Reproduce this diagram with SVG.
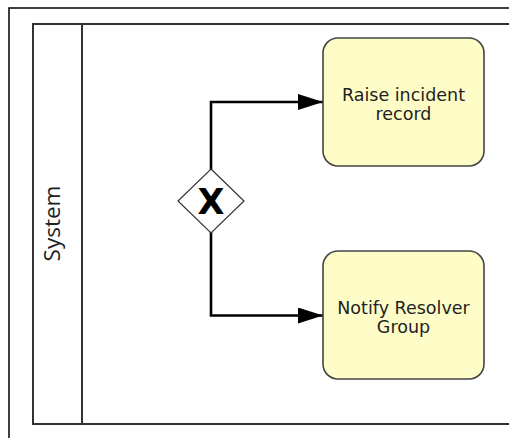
<svg xmlns="http://www.w3.org/2000/svg" width="509" height="438" viewBox="0 0 509 438">
  <style>
    .frame { fill: none; stroke: #000; stroke-width: 1.5; }
    .pool { fill: none; stroke: #333; stroke-width: 2; }
    .task { fill: #fefdc8; stroke: #444; stroke-width: 1.6; }
    .label { font-family: "DejaVu Sans", sans-serif; font-size: 17.5px; fill: #222; text-anchor: middle; }
    .flow { fill: none; stroke: #000; stroke-width: 2.6; }
    .gw { fill: #fff; stroke: #333; stroke-width: 1.2; }
  </style>
  <defs>
    <marker id="arrow" markerUnits="userSpaceOnUse" markerWidth="26" markerHeight="18" refX="25" refY="8" orient="auto">
      <path d="M0,0 L25,8 L0,16 z" fill="#000"/>
    </marker>
  </defs>
  <rect width="509" height="438" fill="#fff"/>
  <path class="frame" d="M9,438 L9,8 L509,8"/>
  <g id="pool">
    <path class="pool" d="M512,24 L33,24 L33,424 L512,424"/>
    <line class="pool" x1="82" y1="24" x2="82" y2="424"/>
    <text x="0" y="0" transform="translate(60,223.5) rotate(-90)" font-family="'Open Sans', sans-serif" font-size="22.5" fill="#222" text-anchor="middle">System</text>
  </g>
  <g id="connectors">
    <polyline class="flow" points="211,170 211,102 323,102" marker-end="url(#arrow)"/>
    <polyline class="flow" points="211,232 211,315.5 323,315.5" marker-end="url(#arrow)"/>
  </g>
  <g id="gateway">
    <polygon class="gw" points="211,169 244,201 211,233 178,201"/>
    <text x="211" y="213.5" font-family="'DejaVu Sans', sans-serif" font-weight="bold" font-size="35" fill="#000" text-anchor="middle">X</text>
  </g>
  <g id="task-raise">
    <rect class="task" x="323" y="38" width="161" height="128" rx="15" ry="15"/>
    <text class="label"><tspan x="403.5" y="101">Raise incident</tspan><tspan x="403.5" y="119.5">record</tspan></text>
  </g>
  <g id="task-notify">
    <rect class="task" x="323" y="251" width="161" height="128" rx="15" ry="15"/>
    <text class="label"><tspan x="403.5" y="314">Notify Resolver</tspan><tspan x="403.5" y="333">Group</tspan></text>
  </g>
</svg>
